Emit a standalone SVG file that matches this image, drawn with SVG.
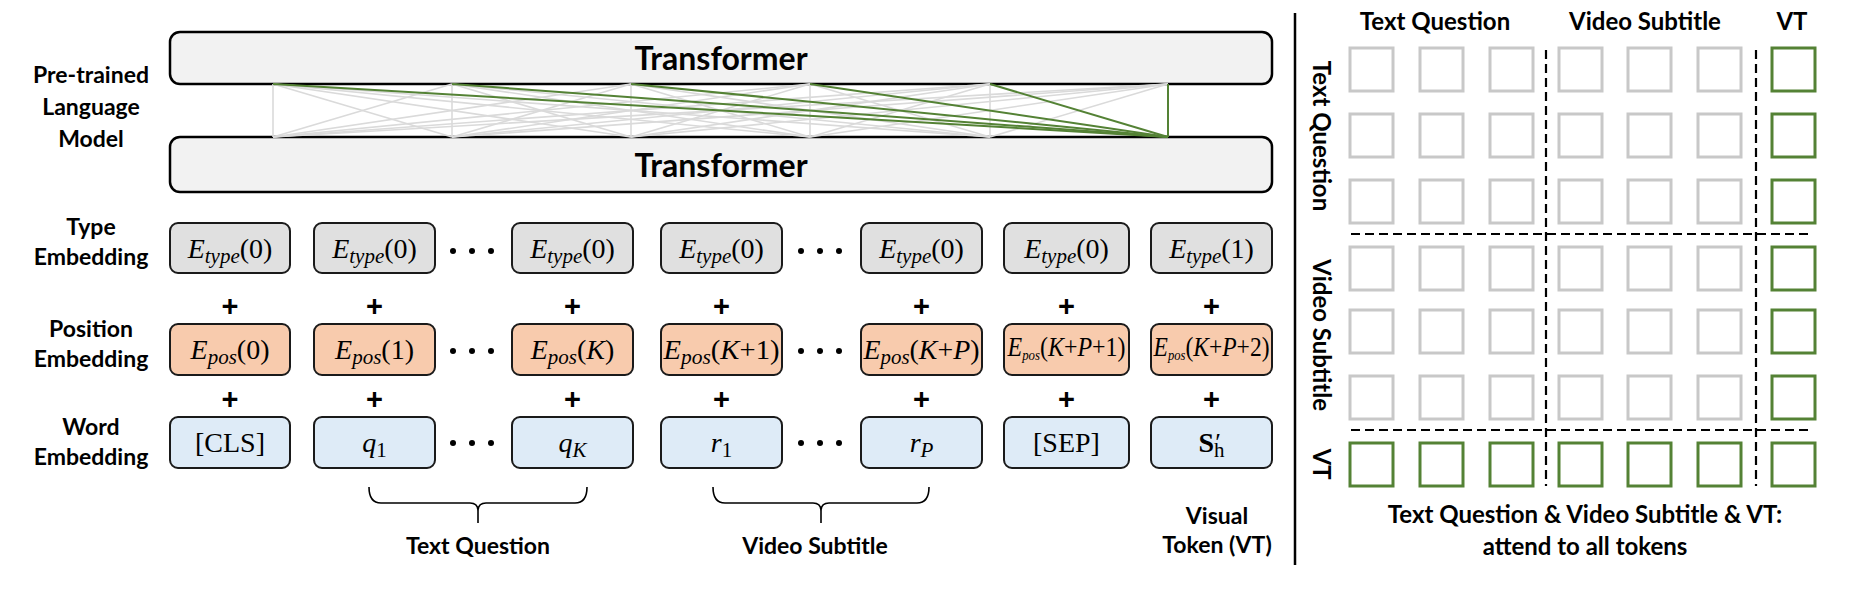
<svg xmlns="http://www.w3.org/2000/svg" width="1857" height="589" viewBox="0 0 1857 589">
<style>
.lbl{font-family:Lato,"Liberation Sans",sans-serif;font-weight:700;font-size:23px;fill:#000;text-anchor:middle}
.hdr{font-family:Lato,"Liberation Sans",sans-serif;font-weight:700;font-size:24px;fill:#000;text-anchor:middle}
.tf{font-family:Lato,"Liberation Sans",sans-serif;font-weight:700;font-size:32px;fill:#000;text-anchor:middle}
.math{font-family:"Liberation Serif","DejaVu Serif",serif;font-size:28px;fill:#000;text-anchor:middle}
.it{font-style:italic}
.sub{font-size:21px}
.plus{font-family:"Liberation Sans",sans-serif;font-weight:700;font-size:29px;fill:#000;text-anchor:middle}
.tbox{fill:#f2f2f2;stroke:#000;stroke-width:2.5}
.type{fill:#e0e0e0;stroke:#1a1a1a;stroke-width:2}
.pos{fill:#f8cbad;stroke:#1a1a1a;stroke-width:2}
.word{fill:#deebf7;stroke:#1a1a1a;stroke-width:2}
.gl{stroke:#dadada;stroke-width:1.6}
.gr{stroke:#548235;stroke-width:2}
.sq{fill:none;stroke:#c8c8c8;stroke-width:3}
.sqg{fill:none;stroke:#548235;stroke-width:3}
.dash{stroke:#000;stroke-width:2.2;stroke-dasharray:9 5;fill:none}
.brace{fill:none;stroke:#000;stroke-width:1.6}
</style>
<rect width="1857" height="589" fill="#fff"/>

<!-- left labels -->
<g id="label-plm">
<text class="lbl" x="91" y="83">Pre-trained</text>
<text class="lbl" x="91" y="115">Language</text>
<text class="lbl" x="91" y="147">Model</text>
</g>
<g id="label-type"><text class="lbl" x="91" y="235">Type</text><text class="lbl" x="91" y="265">Embedding</text></g>
<g id="label-pos"><text class="lbl" x="91" y="337">Position</text><text class="lbl" x="91" y="367">Embedding</text></g>
<g id="label-word"><text class="lbl" x="91" y="435">Word</text><text class="lbl" x="91" y="465">Embedding</text></g>

<!-- transformers -->
<g id="transformer-top"><rect class="tbox" x="170" y="32" width="1102" height="52" rx="10"/><text class="tf" x="721" y="70">Transformer</text></g>
<g id="transformer-bottom"><rect class="tbox" x="170" y="137" width="1102" height="55" rx="10"/><text class="tf" x="721" y="177">Transformer</text></g>

<!-- attention connectors -->
<g id="connectors">
<g class="gl">
<line x1="273" y1="84" x2="273" y2="137"/><line x1="273" y1="84" x2="452" y2="137"/><line x1="273" y1="84" x2="631" y2="137"/><line x1="273" y1="84" x2="810" y2="137"/><line x1="273" y1="84" x2="990" y2="137"/>
<line x1="452" y1="84" x2="273" y2="137"/><line x1="452" y1="84" x2="452" y2="137"/><line x1="452" y1="84" x2="631" y2="137"/><line x1="452" y1="84" x2="810" y2="137"/><line x1="452" y1="84" x2="990" y2="137"/>
<line x1="631" y1="84" x2="273" y2="137"/><line x1="631" y1="84" x2="452" y2="137"/><line x1="631" y1="84" x2="631" y2="137"/><line x1="631" y1="84" x2="810" y2="137"/><line x1="631" y1="84" x2="990" y2="137"/>
<line x1="810" y1="84" x2="273" y2="137"/><line x1="810" y1="84" x2="452" y2="137"/><line x1="810" y1="84" x2="631" y2="137"/><line x1="810" y1="84" x2="810" y2="137"/><line x1="810" y1="84" x2="990" y2="137"/>
<line x1="990" y1="84" x2="273" y2="137"/><line x1="990" y1="84" x2="452" y2="137"/><line x1="990" y1="84" x2="631" y2="137"/><line x1="990" y1="84" x2="810" y2="137"/><line x1="990" y1="84" x2="990" y2="137"/>
<line x1="1168" y1="84" x2="273" y2="137"/><line x1="1168" y1="84" x2="452" y2="137"/><line x1="1168" y1="84" x2="631" y2="137"/><line x1="1168" y1="84" x2="810" y2="137"/><line x1="1168" y1="84" x2="990" y2="137"/>
</g>
<g class="gr">
<line x1="273" y1="84" x2="1168" y2="137"/><line x1="452" y1="84" x2="1168" y2="137"/><line x1="631" y1="84" x2="1168" y2="137"/><line x1="810" y1="84" x2="1168" y2="137"/><line x1="990" y1="84" x2="1168" y2="137"/><line x1="1168" y1="84" x2="1168" y2="137"/>
</g>
</g>

<!-- type row -->
<g id="type-1"><rect class="type" x="170" y="223" width="120" height="50" rx="8"/><text class="math" x="230" y="258"><tspan class="it">E</tspan><tspan class="it sub" dy="5">type</tspan><tspan dy="-5">(0)</tspan></text></g>
<g id="type-2"><rect class="type" x="314" y="223" width="121" height="50" rx="8"/><text class="math" x="374.5" y="258"><tspan class="it">E</tspan><tspan class="it sub" dy="5">type</tspan><tspan dy="-5">(0)</tspan></text></g>
<g id="type-3"><rect class="type" x="512" y="223" width="121" height="50" rx="8"/><text class="math" x="572.5" y="258"><tspan class="it">E</tspan><tspan class="it sub" dy="5">type</tspan><tspan dy="-5">(0)</tspan></text></g>
<g id="type-4"><rect class="type" x="661" y="223" width="121" height="50" rx="8"/><text class="math" x="721.5" y="258"><tspan class="it">E</tspan><tspan class="it sub" dy="5">type</tspan><tspan dy="-5">(0)</tspan></text></g>
<g id="type-5"><rect class="type" x="861" y="223" width="121" height="50" rx="8"/><text class="math" x="921.5" y="258"><tspan class="it">E</tspan><tspan class="it sub" dy="5">type</tspan><tspan dy="-5">(0)</tspan></text></g>
<g id="type-6"><rect class="type" x="1004" y="223" width="125" height="50" rx="8"/><text class="math" x="1066.5" y="258"><tspan class="it">E</tspan><tspan class="it sub" dy="5">type</tspan><tspan dy="-5">(0)</tspan></text></g>
<g id="type-7"><rect class="type" x="1151" y="223" width="121" height="50" rx="8"/><text class="math" x="1211.5" y="258"><tspan class="it">E</tspan><tspan class="it sub" dy="5">type</tspan><tspan dy="-5">(1)</tspan></text></g>

<!-- position row -->
<g id="pos-1"><rect class="pos" x="170" y="324" width="120" height="51" rx="8"/><text class="math" x="230" y="359"><tspan class="it">E</tspan><tspan class="it sub" dy="5">pos</tspan><tspan dy="-5">(0)</tspan></text></g>
<g id="pos-2"><rect class="pos" x="314" y="324" width="121" height="51" rx="8"/><text class="math" x="374.5" y="359"><tspan class="it">E</tspan><tspan class="it sub" dy="5">pos</tspan><tspan dy="-5">(1)</tspan></text></g>
<g id="pos-3"><rect class="pos" x="512" y="324" width="121" height="51" rx="8"/><text class="math" x="572.5" y="359"><tspan class="it">E</tspan><tspan class="it sub" dy="5">pos</tspan><tspan dy="-5">(</tspan><tspan class="it">K</tspan><tspan>)</tspan></text></g>
<g id="pos-4"><rect class="pos" x="661" y="324" width="121" height="51" rx="8"/><text class="math" x="721.5" y="359" textLength="116" lengthAdjust="spacingAndGlyphs"><tspan class="it">E</tspan><tspan class="it sub" dy="5">pos</tspan><tspan dy="-5">(</tspan><tspan class="it">K</tspan><tspan>+1)</tspan></text></g>
<g id="pos-5"><rect class="pos" x="861" y="324" width="121" height="51" rx="8"/><text class="math" x="921.5" y="359" textLength="116" lengthAdjust="spacingAndGlyphs"><tspan class="it">E</tspan><tspan class="it sub" dy="5">pos</tspan><tspan dy="-5">(</tspan><tspan class="it">K</tspan><tspan>+</tspan><tspan class="it">P</tspan><tspan>)</tspan></text></g>
<g id="pos-6"><rect class="pos" x="1004" y="324" width="125" height="51" rx="8"/><text class="math" x="1066.5" y="356" font-size="21" textLength="118" lengthAdjust="spacingAndGlyphs"><tspan class="it">E</tspan><tspan class="it" font-size="15" dy="4">pos</tspan><tspan dy="-4">(</tspan><tspan class="it">K</tspan><tspan>+</tspan><tspan class="it">P</tspan><tspan>+1)</tspan></text></g>
<g id="pos-7"><rect class="pos" x="1151" y="324" width="121" height="51" rx="8"/><text class="math" x="1211.5" y="356" font-size="21" textLength="116" lengthAdjust="spacingAndGlyphs"><tspan class="it">E</tspan><tspan class="it" font-size="15" dy="4">pos</tspan><tspan dy="-4">(</tspan><tspan class="it">K</tspan><tspan>+</tspan><tspan class="it">P</tspan><tspan>+2)</tspan></text></g>

<!-- word row -->
<g id="word-1"><rect class="word" x="170" y="417" width="120" height="51" rx="8"/><text class="math" x="230" y="452" font-size="26">[CLS]</text></g>
<g id="word-2"><rect class="word" x="314" y="417" width="121" height="51" rx="8"/><text class="math" x="374.5" y="452"><tspan class="it">q</tspan><tspan class="sub" dy="5">1</tspan></text></g>
<g id="word-3"><rect class="word" x="512" y="417" width="121" height="51" rx="8"/><text class="math" x="572.5" y="452"><tspan class="it">q</tspan><tspan class="it sub" dy="5">K</tspan></text></g>
<g id="word-4"><rect class="word" x="661" y="417" width="121" height="51" rx="8"/><text class="math" x="721.5" y="452"><tspan class="it">r</tspan><tspan class="sub" dy="5">1</tspan></text></g>
<g id="word-5"><rect class="word" x="861" y="417" width="121" height="51" rx="8"/><text class="math" x="921.5" y="452"><tspan class="it">r</tspan><tspan class="it sub" dy="5">P</tspan></text></g>
<g id="word-6"><rect class="word" x="1004" y="417" width="125" height="51" rx="8"/><text class="math" x="1066.5" y="452" font-size="26">[SEP]</text></g>
<g id="word-7"><rect class="word" x="1151" y="417" width="121" height="51" rx="8"/><text class="math" x="1211.5" y="452"><tspan font-weight="bold">S</tspan><tspan font-size="26" dx="1" dy="-1">′</tspan><tspan class="sub" dx="-7" dy="6">h</tspan></text></g>

<!-- plus signs -->
<g id="plus-signs">
<text class="plus" x="230" y="316">+</text><text class="plus" x="374.5" y="316">+</text><text class="plus" x="572.5" y="316">+</text><text class="plus" x="721.5" y="316">+</text><text class="plus" x="921.5" y="316">+</text><text class="plus" x="1066.5" y="316">+</text><text class="plus" x="1211.5" y="316">+</text>
<text class="plus" x="230" y="409">+</text><text class="plus" x="374.5" y="409">+</text><text class="plus" x="572.5" y="409">+</text><text class="plus" x="721.5" y="409">+</text><text class="plus" x="921.5" y="409">+</text><text class="plus" x="1066.5" y="409">+</text><text class="plus" x="1211.5" y="409">+</text>
</g>

<!-- ellipsis dots -->
<g id="dots" fill="#000">
<circle cx="453" cy="251" r="3"/><circle cx="472" cy="251" r="3"/><circle cx="491" cy="251" r="3"/>
<circle cx="453" cy="351" r="3"/><circle cx="472" cy="351" r="3"/><circle cx="491" cy="351" r="3"/>
<circle cx="453" cy="443" r="3"/><circle cx="472" cy="443" r="3"/><circle cx="491" cy="443" r="3"/>
<circle cx="801" cy="251" r="3"/><circle cx="820" cy="251" r="3"/><circle cx="839" cy="251" r="3"/>
<circle cx="801" cy="351" r="3"/><circle cx="820" cy="351" r="3"/><circle cx="839" cy="351" r="3"/>
<circle cx="801" cy="443" r="3"/><circle cx="820" cy="443" r="3"/><circle cx="839" cy="443" r="3"/>
</g>

<!-- braces -->
<g id="brace-text-question">
<path class="brace" d="M369,487 Q369,503 381,503 L470,503 Q478,503 478,511 L478,523 M478,511 Q478,503 486,503 L575,503 Q587,503 587,487"/>
<text class="lbl" x="478" y="554">Text Question</text>
</g>
<g id="brace-video-subtitle">
<path class="brace" d="M713,487 Q713,503 725,503 L813,503 Q821,503 821,511 L821,523 M821,511 Q821,503 829,503 L917,503 Q929,503 929,487"/>
<text class="lbl" x="815" y="554">Video Subtitle</text>
</g>
<g id="label-visual-token">
<text class="lbl" x="1217" y="524">Visual</text>
<text class="lbl" x="1217" y="553">Token (VT)</text>
</g>

<!-- divider -->
<line x1="1295" y1="13" x2="1295" y2="565" stroke="#000" stroke-width="2.5"/>

<!-- attention mask panel -->
<g id="mask-headers">
<text class="hdr" x="1435" y="30">Text Question</text>
<text class="hdr" x="1645" y="30">Video Subtitle</text>
<text class="hdr" x="1792" y="30">VT</text>
<text class="hdr" transform="translate(1322,136) rotate(90)" dominant-baseline="central">Text Question</text>
<text class="hdr" transform="translate(1322,335) rotate(90)" dominant-baseline="central">Video Subtitle</text>
<text class="hdr" transform="translate(1322,464) rotate(90)" dominant-baseline="central">VT</text>
</g>
<g id="mask-grid">
<g class="sq">
<rect x="1350" y="48" width="43" height="43"/><rect x="1420" y="48" width="43" height="43"/><rect x="1490" y="48" width="43" height="43"/><rect x="1559" y="48" width="43" height="43"/><rect x="1628" y="48" width="43" height="43"/><rect x="1698" y="48" width="43" height="43"/>
<rect x="1350" y="114" width="43" height="43"/><rect x="1420" y="114" width="43" height="43"/><rect x="1490" y="114" width="43" height="43"/><rect x="1559" y="114" width="43" height="43"/><rect x="1628" y="114" width="43" height="43"/><rect x="1698" y="114" width="43" height="43"/>
<rect x="1350" y="180" width="43" height="43"/><rect x="1420" y="180" width="43" height="43"/><rect x="1490" y="180" width="43" height="43"/><rect x="1559" y="180" width="43" height="43"/><rect x="1628" y="180" width="43" height="43"/><rect x="1698" y="180" width="43" height="43"/>
<rect x="1350" y="247" width="43" height="43"/><rect x="1420" y="247" width="43" height="43"/><rect x="1490" y="247" width="43" height="43"/><rect x="1559" y="247" width="43" height="43"/><rect x="1628" y="247" width="43" height="43"/><rect x="1698" y="247" width="43" height="43"/>
<rect x="1350" y="310" width="43" height="43"/><rect x="1420" y="310" width="43" height="43"/><rect x="1490" y="310" width="43" height="43"/><rect x="1559" y="310" width="43" height="43"/><rect x="1628" y="310" width="43" height="43"/><rect x="1698" y="310" width="43" height="43"/>
<rect x="1350" y="376" width="43" height="43"/><rect x="1420" y="376" width="43" height="43"/><rect x="1490" y="376" width="43" height="43"/><rect x="1559" y="376" width="43" height="43"/><rect x="1628" y="376" width="43" height="43"/><rect x="1698" y="376" width="43" height="43"/>
</g>
<g class="sqg">
<rect x="1772" y="48" width="43" height="43"/><rect x="1772" y="114" width="43" height="43"/><rect x="1772" y="180" width="43" height="43"/><rect x="1772" y="247" width="43" height="43"/><rect x="1772" y="310" width="43" height="43"/><rect x="1772" y="376" width="43" height="43"/>
<rect x="1350" y="443" width="43" height="43"/><rect x="1420" y="443" width="43" height="43"/><rect x="1490" y="443" width="43" height="43"/><rect x="1559" y="443" width="43" height="43"/><rect x="1628" y="443" width="43" height="43"/><rect x="1698" y="443" width="43" height="43"/><rect x="1772" y="443" width="43" height="43"/>
</g>
<g class="dash">
<line x1="1546" y1="50" x2="1546" y2="486"/>
<line x1="1756" y1="50" x2="1756" y2="486"/>
<line x1="1351" y1="234" x2="1813" y2="234"/>
<line x1="1351" y1="430" x2="1813" y2="430"/>
</g>
</g>
<g id="mask-caption">
<text class="hdr" x="1585" y="523">Text Question &amp; Video Subtitle &amp; VT:</text>
<text class="hdr" x="1585" y="555">attend to all tokens</text>
</g>
</svg>
